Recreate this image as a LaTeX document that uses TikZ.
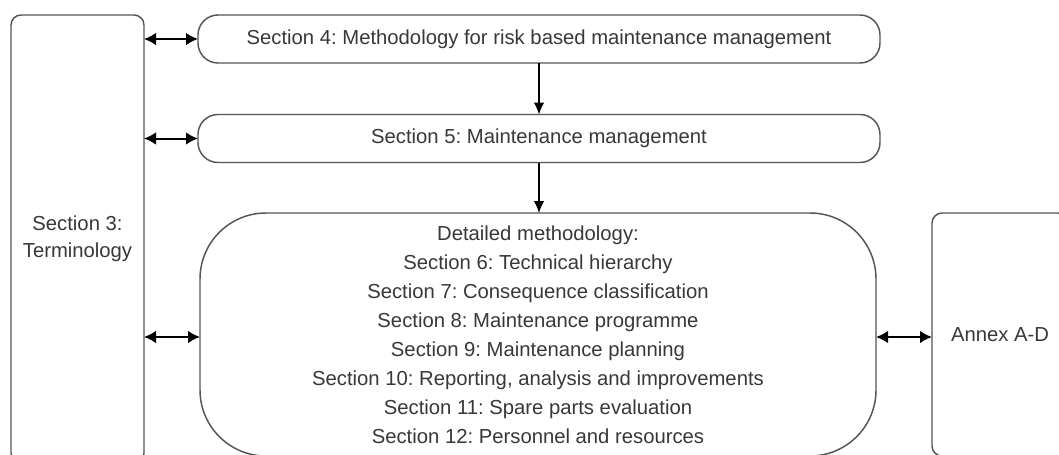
\documentclass[tikz,border=0pt]{standalone}
\usepackage{fontspec}
\setmainfont{Liberation Sans}
\usetikzlibrary{arrows.meta}
\definecolor{txt}{HTML}{383838}
\definecolor{edge}{HTML}{555555}
\frenchspacing
\begin{document}
\begin{tikzpicture}[x=0.75pt,y=-0.75pt,
  box/.style={draw=edge,line width=1.1pt,inner sep=0pt,outer sep=0pt,text=txt,align=center,
    font=\fontsize{15.2pt}{20.25pt}\selectfont},
  dbl/.style={line width=1.5pt,{Latex[length=9pt,width=9.5pt]}-{Latex[length=9pt,width=9.5pt]}},
  one/.style={line width=1.1pt,-{Latex[length=9pt,width=8pt]}}]
\useasboundingbox (0,0) rectangle (1059,454);
\clip (0,0) rectangle (1059,454);
\fill[white] (0,0) rectangle (1059,454);
\node[box,rounded corners=7.5pt,minimum width=99.75pt,minimum height=336pt] (term) at (77.5,239) {Section 3:\\Terminology};
\node[box,rounded corners=15pt,minimum width=511.5pt,minimum height=36pt] (s4) at (539,39) {Section 4: Methodology for risk based maintenance management};
\node[box,rounded corners=15pt,minimum width=511.5pt,minimum height=36pt] (s5) at (539,138.5) {Section 5: Maintenance management};
\node[box,rounded corners=49.5pt,minimum width=507pt,minimum height=182.25pt,font=\fontsize{15.2pt}{21.75pt}\selectfont] (big) at (538,334.5) {Detailed methodology:\\Section 6: Technical hierarchy\\Section 7: Consequence classification\\Section 8: Maintenance programme\\Section 9: Maintenance planning\\Section 10: Reporting, analysis and improvements\\Section 11: Spare parts evaluation\\Section 12: Personnel and resources};
\node[box,rounded corners=7.5pt,minimum width=102pt,minimum height=182.25pt] (annex) at (1000,334.5) {Annex A-D};
\coordinate (bl) at (200,337);
\coordinate (br) at (876,337);
\draw[dbl] (term.east |- s4) -- (s4.west);
\draw[dbl] (term.east |- s5) -- (s5.west);
\draw[dbl] (term.east |- bl) -- (bl);
\draw[dbl] (br) -- (annex.west |- br);
\draw[one] (s4.south) -- (s5.north);
\draw[one] (s5.south) -- (s5.south |- big.north);
\end{tikzpicture}
\end{document}
